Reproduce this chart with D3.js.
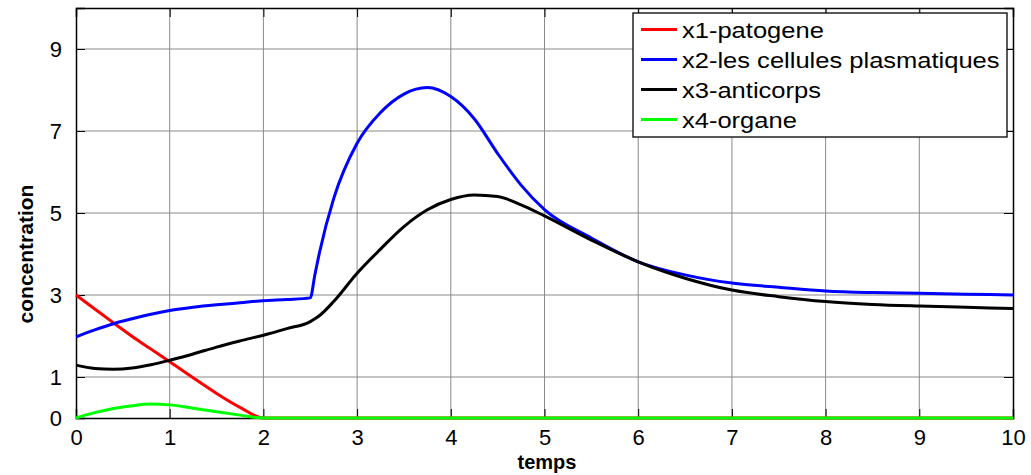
<!DOCTYPE html>
<html>
<head>
<meta charset="utf-8">
<script src="https://cdn.jsdelivr.net/npm/d3@7"></script>
<style>
  body { margin: 0; background: #fff; }
  svg { display: block; }
  text { font-family: "Liberation Sans", Arial, sans-serif; }
</style>
</head>
<body>
<div id="chart"></div>
<script>
// time samples (denser where the curves bend)
var temps = [0, 0.2, 0.4, 0.6, 0.8, 1, 1.25, 1.5, 1.75, 2, 2.25, 2.5, 2.55, 2.6, 2.75, 3, 3.25, 3.5, 3.75,
    4, 4.25, 4.5, 4.75, 5, 5.5, 6, 6.5, 7, 7.5, 8, 8.5, 9, 9.5, 10];

var x1 = [3.0, 2.66, 2.32, 1.99, 1.68, 1.37, 0.98, 0.6, 0.26, 0, 0, 0, 0, 0, 0, 0, 0, 0, 0,
    0, 0, 0, 0, 0, 0, 0, 0, 0, 0, 0, 0, 0, 0, 0];
var x2 = [1.98, 2.15, 2.3, 2.42, 2.53, 2.62, 2.7, 2.76, 2.81, 2.86, 2.89, 2.93, 3.5, 4.05, 5.35, 6.7, 7.45, 7.9, 8.06,
    7.84, 7.3, 6.45, 5.68, 5.08, 4.39, 3.81, 3.49, 3.29, 3.19, 3.1, 3.06, 3.04, 3.02, 3.0];
var x3 = [1.29, 1.21, 1.19, 1.22, 1.3, 1.41, 1.56, 1.73, 1.88, 2.02, 2.18, 2.35, 2.42, 2.5, 2.84, 3.53, 4.12, 4.67, 5.08,
    5.33, 5.44, 5.4, 5.2, 4.93, 4.34, 3.81, 3.41, 3.12, 2.96, 2.84, 2.77, 2.73, 2.7, 2.67];
var x4 = [0, 0.13, 0.23, 0.3, 0.34, 0.32, 0.24, 0.15, 0.07, 0, 0, 0, 0, 0, 0, 0, 0, 0, 0,
    0, 0, 0, 0, 0, 0, 0, 0, 0, 0, 0, 0, 0, 0, 0];

var seriesNames = ["x1-patogene", "x2-les cellules plasmatiques", "x3-anticorps", "x4-organe"];
var seriesColors = ["#ff0000", "#0000ff", "#000000", "#00ff00"];

var xTicks = [0, 1, 2, 3, 4, 5, 6, 7, 8, 9, 10];
var yTicks = [0, 1, 3, 5, 7, 9];
var yGrid = [1, 3, 5, 7, 9];

var margin = { top: 8, right: 18, bottom: 57, left: 76 },
    width = 1031 - margin.left - margin.right,
    height = 475 - margin.top - margin.bottom;

var svg = d3.select("#chart").append("svg")
    .attr("width", 1031)
    .attr("height", 475);

var g = svg.append("g")
    .attr("transform", "translate(" + margin.left + "," + margin.top + ")");

var x = d3.scaleLinear().domain([0, 10]).range([0, width]);
var y = d3.scaleLinear().domain([0, 10]).range([height, 0]);

// grid
g.selectAll(".vgrid")
    .data(xTicks.slice(1, -1))
    .enter().append("line")
    .attr("x1", function (d) { return x(d); })
    .attr("x2", function (d) { return x(d); })
    .attr("y1", 0)
    .attr("y2", height)
    .attr("stroke", "#8a8a8a")
    .attr("stroke-width", 1);

g.selectAll(".hgrid")
    .data(yGrid)
    .enter().append("line")
    .attr("x1", 0)
    .attr("x2", width)
    .attr("y1", function (d) { return y(d); })
    .attr("y2", function (d) { return y(d); })
    .attr("stroke", "#8a8a8a")
    .attr("stroke-width", 1);

// axes (matlab style: ticks inside, on all four sides)
var axB = g.append("g")
    .attr("transform", "translate(0," + height + ")")
    .call(d3.axisBottom(x).tickValues(xTicks).tickSize(-9).tickPadding(11).tickFormat(d3.format("d")));
var axT = g.append("g")
    .call(d3.axisTop(x).tickValues(xTicks).tickSize(-9).tickFormat(""));
var axL = g.append("g")
    .call(d3.axisLeft(y).tickValues(yTicks).tickSize(-9).tickPadding(14).tickFormat(d3.format("d")));
var axR = g.append("g")
    .attr("transform", "translate(" + width + ",0)")
    .call(d3.axisRight(y).tickValues(yTicks).tickSize(-9).tickFormat(""));

[axB, axT, axL, axR].forEach(function (a) {
    a.select(".domain").attr("stroke", "#000").attr("stroke-width", 1.5);
    a.selectAll(".tick line").attr("stroke", "#000").attr("stroke-width", 1);
    a.selectAll(".tick text")
        .attr("fill", "#000")
        .style("font-size", "22px")
        .style("font-family", "'Liberation Sans', Arial, sans-serif");
});
axB.selectAll(".tick text").attr("dy", "0.71em");

// curves
var line = d3.line()
    .x(function (d) { return x(d[0]); })
    .y(function (d) { return y(d[1]); })
    .curve(d3.curveMonotoneX);

[x1, x2, x3, x4].forEach(function (vals, i) {
    g.append("path")
        .datum(temps.map(function (t, j) { return [t, vals[j]]; }))
        .attr("fill", "none")
        .attr("stroke", seriesColors[i])
        .attr("stroke-width", 3)
        .attr("stroke-linejoin", "round")
        .attr("d", line);
});

// legend
var leg = svg.append("g").attr("transform", "translate(633,13)");
leg.append("rect")
    .attr("width", 374)
    .attr("height", 124)
    .attr("fill", "#fff")
    .attr("stroke", "#000")
    .attr("stroke-width", 1.3);
seriesNames.forEach(function (name, i) {
    var ry = 16.5 + i * 30;
    leg.append("line")
        .attr("x1", 8).attr("x2", 44)
        .attr("y1", ry).attr("y2", ry)
        .attr("stroke", seriesColors[i])
        .attr("stroke-width", 3);
    leg.append("text")
        .attr("transform", "translate(49," + (ry + 8) + ") scale(1.16,1)")
        .style("font-size", "22px")
        .attr("fill", "#000")
        .text(name);
});

// axis titles
svg.append("text")
    .attr("transform", "translate(33,254) rotate(-90)")
    .attr("text-anchor", "middle")
    .style("font-size", "21px")
    .style("font-weight", "700")
    .text("concentration");

svg.append("text")
    .attr("x", 547)
    .attr("y", 469)
    .attr("text-anchor", "middle")
    .style("font-size", "20px")
    .style("font-weight", "700")
    .text("temps");
</script>
</body>
</html>
